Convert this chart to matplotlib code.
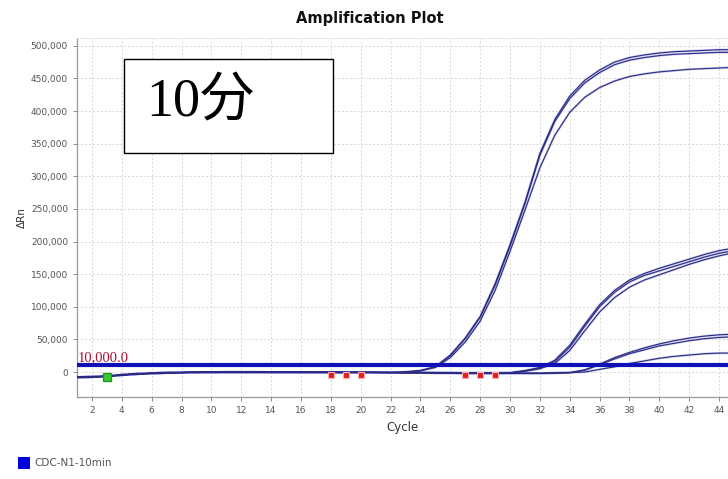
import matplotlib.pyplot as plt
import numpy as np

# cycles 1..45, values in thousands of ΔRn
cycles = np.arange(1, 46)
early = [-8, -7.5, -6.5, -4.5, -3, -2, -1.2, -0.8, -0.5, -0.3, -0.2,
         -0.2, -0.2, -0.3, -0.3, -0.4, -0.5, -0.5, -0.6, -0.6, -0.7, -0.8]

# fast group (cycles 23..45)
a1 = [0, 2, 8, 26, 52, 85, 135, 195, 260, 335, 387, 423, 447, 463, 475, 482,
      486, 489, 491, 492, 493, 494, 494]
a2 = [0, 2, 8, 25, 51, 84, 133, 193, 258, 332, 384, 419, 443, 459, 471, 478,
      482, 485, 487, 488, 489, 490, 490]
a3 = [0, 2, 7, 22, 46, 78, 125, 185, 248, 313, 363, 398, 421, 436, 446, 453,
      457, 460, 462, 464, 465, 466, 467]

# middle group (cycles 23..45)
b_flat = [-1, -1, -1.2, -1.3, -1.5, -1.5, -1.5, -1.2]
b1 = [2, 6, 16, 38, 70, 100, 122, 138, 148, 155, 162, 169, 176, 182, 186]
b2 = [2, 7, 18, 41, 73, 103, 125, 141, 151, 159, 166, 173, 180, 186, 190]
b3 = [1, 5, 13, 33, 63, 92, 114, 130, 141, 149, 157, 165, 172, 178, 183]

# late group (cycles 23..45)
c_flat = [-1, -1, -1.5, -1.5, -2, -2, -2, -2, -2, -2, -1.5, -1]
c1 = [3, 12, 22, 30, 37, 43, 48, 52, 55, 57, 58]
c2 = [3, 11, 20, 28, 34, 40, 44, 48, 51, 53, 54]
c3 = [0, 4, 8, 13, 17, 21, 24, 26, 28, 29, 29]

curves = [early + a1, early + a2, early + a3,
          early + b_flat + b1, early + b_flat + b2, early + b_flat + b3,
          early + c_flat + c1, early + c_flat + c2, early + c_flat + c3]

threshold = 10000
green_cycle, green_val = 3, -7800
red_cycles = [18, 19, 20, 27, 28, 29]
red_val = -5000

yticks = np.arange(0, 500001, 50000)
xticks = np.arange(2, 45, 2)

fig = plt.figure(figsize=(7.28, 4.79), dpi=100)
ax = fig.add_axes([0.1058, 0.1712, 0.8942, 0.7495])

for y in curves:
    ax.plot(cycles, np.array(y) * 1000, color='#7070d0', lw=1.7, alpha=0.35,
            solid_capstyle='round', zorder=3)
    ax.plot(cycles, np.array(y) * 1000, color='#2a2a80', lw=0.8, zorder=4)

ax.axhline(threshold, color='#1010b8', lw=3, zorder=5)
ax.text(1.05, threshold + 1500, '10,000.0', color='#b01030', fontsize=10.5,
        family='Liberation Serif', va='bottom', ha='left', zorder=6)

ax.plot([green_cycle], [green_val], marker='s', ms=6, mfc='#33cc33',
        mec='#229922', ls='none', zorder=6)
ax.plot(red_cycles, [red_val] * len(red_cycles), marker='s', ms=4.5,
        mfc='#dd2020', mec='#ffb0b0', mew=0.8, ls='none', zorder=6)

ax.set_xlim(1.0, 44.6)
ax.set_ylim(-38300, 512000)
ax.set_xticks(xticks)
ax.set_xticklabels([str(v) for v in xticks])
ax.set_yticks(yticks)
ax.set_yticklabels([f'{v:,}' for v in yticks])
ax.tick_params(labelsize=6.5, colors='#777777', labelcolor='#555555',
               length=3, width=0.6)
ax.grid(True, ls=(0, (2, 2)), color='#d8d8d8', lw=0.7)
ax.set_axisbelow(True)

for side in ['left', 'bottom']:
    ax.spines[side].set_color('#999999')
    ax.spines[side].set_linewidth(0.9)
ax.spines['top'].set_color('#e6e6e6')
ax.spines['right'].set_visible(False)

ax.set_xlabel('Cycle', fontsize=8.5, color='#333333', labelpad=4)
ax.set_ylabel('ΔRn', fontsize=7.5, color='#333333', labelpad=3)
fig.text(0.508, 0.962, 'Amplification Plot', ha='center', va='center',
         fontsize=10.5, fontweight='bold', color='#111111')

# big label box
box = plt.Rectangle((0.170, 0.681), 0.287, 0.196, transform=fig.transFigure,
                    facecolor='white', edgecolor='black', lw=1.0, zorder=10)
fig.add_artist(box)
fig.text(0.201, 0.785, '10分', fontsize=39, va='center', ha='left',
         family=['Liberation Serif', 'Noto Sans CJK JP'], color='black',
         zorder=11)

# legend at the bottom
fig.add_artist(plt.Rectangle((0.025, 0.020), 0.016, 0.025,
                             transform=fig.transFigure, facecolor='#0000dd',
                             edgecolor='none'))
fig.text(0.047, 0.0325, 'CDC-N1-10min', fontsize=7.5, color='#555555',
         va='center', ha='left')

fig.savefig('out.png', dpi=100)
